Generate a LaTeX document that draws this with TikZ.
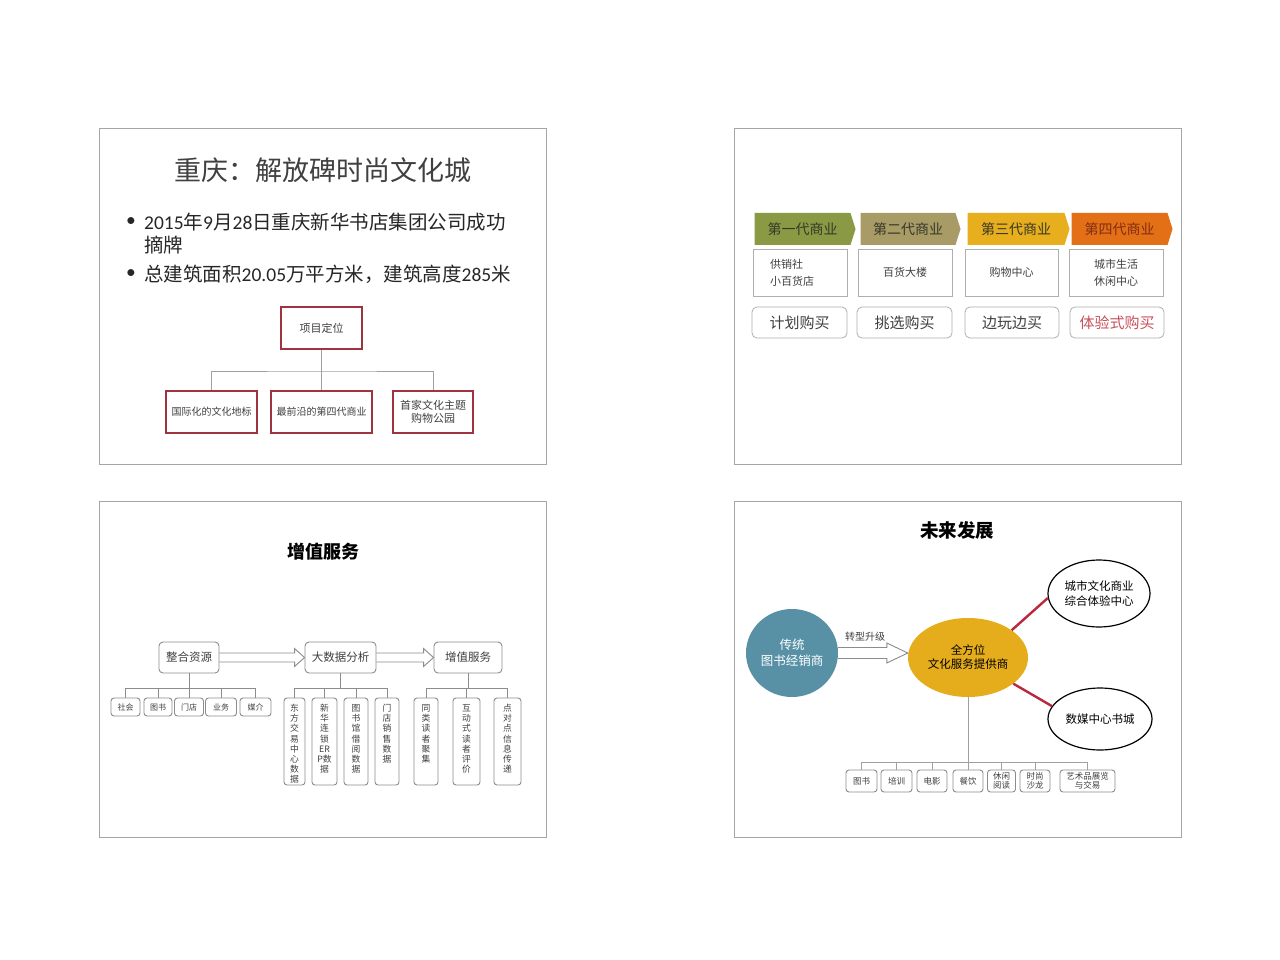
\documentclass[tikz,border=0pt]{standalone}
\usepackage{fontspec}
\setmainfont{Noto Sans CJK SC}
\newfontfamily\lat{Carlito}
\usetikzlibrary{shapes.geometric,shapes.symbols,calc}
\newcommand\fsz[2]{\fontsize{#1}{#2}\selectfont}
\newcommand\tbx[1]{\parbox[c][82pt][t]{20pt}{\centering\rule{0pt}{11pt}#1}}
\definecolor{frame}{RGB}{165,165,165}
\definecolor{boxred}{RGB}{158,52,64}
\definecolor{linegray}{RGB}{160,160,160}
\definecolor{txtdark}{RGB}{64,64,64}
\definecolor{chA}{RGB}{138,154,68}
\definecolor{chB}{RGB}{168,155,102}
\definecolor{chC}{RGB}{231,174,30}
\definecolor{chD}{RGB}{227,111,22}
\definecolor{chtxt}{RGB}{55,55,40}
\definecolor{chtxtD}{RGB}{130,45,20}
\definecolor{pinkred}{RGB}{200,80,90}
\definecolor{lbox}{RGB}{175,175,175}
\definecolor{sgray}{RGB}{140,140,140}
\definecolor{teal4}{RGB}{88,145,166}
\definecolor{gold4}{RGB}{229,173,27}
\definecolor{redln}{RGB}{185,40,60}
\begin{document}
\begin{tikzpicture}[x=1pt,y=-1pt,
  wh/.style 2 args={minimum width=#1pt, minimum height=#2pt},
  slideframe/.style={draw=frame, line width=0.8pt},
  plain/.style={inner sep=0pt},
  redbox/.style={draw=boxred, line width=1.6pt, inner sep=0pt, text=txtdark, font=\fsz{10}{13}, align=center},
  conn/.style={draw=linegray, line width=0.9pt},
  chev/.style={signal, signal to=east, signal from=nowhere, signal pointer angle=145, inner sep=0pt, font=\fsz{14}{16}},
  genbox/.style={draw=lbox, line width=0.8pt, inner sep=0pt, font=\fsz{11}{17}, align=center, text=txtdark},
  rbox/.style={genbox, rounded corners=5pt, font=\fsz{15}{18}},
  sbox/.style={draw=sgray, line width=0.9pt, rounded corners=4pt, inner sep=0pt, text=txtdark, align=center},
  hollow/.style={draw=sgray, line width=0.9pt, line join=miter},
  ebox/.style={ellipse, inner sep=0pt, align=center}
]
\useasboundingbox (0,0) rectangle (1280,960);
\fill[white] (0,0) rectangle (1280,960);

% slide frames
\draw[slideframe] (99,128) rectangle (546,464);
\draw[slideframe] (734,128) rectangle (1181,464);
\draw[slideframe] (99,501) rectangle (546,837);
\draw[slideframe] (734,501) rectangle (1181,837);

% ---------------- slide 1 ----------------
\node[plain, text=txtdark, font=\fsz{27}{30}] (t1) at (323,170) {重庆：解放碑时尚文化城};
\node[plain, font=\lat\fsz{19.5}{22}, text=black!85] (bd1) at (131,222) {•};
\node[plain, anchor=west, font=\fsz{19.5}{22}, text=black!85] (bl1) at (144,222) {{\lat 2015}年{\lat 9}月{\lat 28}日重庆新华书店集团公司成功};
\node[plain, anchor=west, font=\fsz{19.5}{22}, text=black!85] (bl1b) at (144,245) {摘牌};
\node[plain, font=\lat\fsz{19.5}{22}, text=black!85] (bd2) at (131,274) {•};
\node[plain, anchor=west, font=\fsz{19.5}{22}, text=black!85] (bl2) at (144,274) {总建筑面积{\lat 20.05}万平方米，建筑高度{\lat 285}米};

\node[redbox, wh={81}{42}, font=\fsz{11}{14}] (p0) at (321.5,328) {项目定位};
\node[redbox, wh={91}{42}] (p1) at (211.5,412) {国际化的文化地标};
\node[redbox, wh={101}{42}] (p2) at (321.5,412) {最前沿的第四代商业};
\node[redbox, wh={80}{42}, font=\fsz{11}{13}] (p3) at (433,412) {首家文化主题\\购物公园};
\coordinate (bus1) at (321.5,371);
\draw[conn] (p0.south) -- (p2.north);
\draw[conn] (p1.north) |- (bus1) -| (p3.north);

% ---------------- slide 2 ----------------
\node[chev, fill=chA, wh={101}{32}, text=chtxt] (c1) at (802.5,229) {第一代商业};
\node[chev, fill=chB, wh={100}{32}, text=chtxt] (c2) at (908,229) {第二代商业};
\node[chev, fill=chC, wh={102}{32}, text=chtxt] (c3) at (1016,229) {第三代商业};
\node[chev, fill=chD, wh={101}{32}, text=chtxtD] (c4) at (1119.5,229) {第四代商业};

\node[genbox, wh={94}{47}, text width=60pt, align=left] (m1) at (800,272.5) {供销社\\小百货店};
\node[genbox, wh={94}{47}] (m2) at (905,272.5) {百货大楼};
\node[genbox, wh={93}{47}] (m3) at (1011.5,272.5) {购物中心};
\node[genbox, wh={94}{47}] (m4) at (1116,272.5) {城市生活\\休闲中心};

\node[rbox, wh={95}{31}] (r1) at (799.5,322.5) {计划购买};
\node[rbox, wh={95}{31}] (r2) at (904.5,322.5) {挑选购买};
\node[rbox, wh={94}{31}] (r3) at (1012,322.5) {边玩边买};
\node[rbox, wh={94}{31}, text=pinkred] (r4) at (1117,322.5) {体验式购买};

% ---------------- slide 3 ----------------
\node[plain, font=\bfseries\fsz{18}{20}, text=black] (t3) at (323,552) {增值服务};
\node[sbox, wh={60}{31}, font=\fsz{11.5}{14}] (zh) at (189,657.5) {整合资源};
\node[sbox, wh={71}{31}, font=\fsz{11.5}{14}] (dsj) at (340.5,657.5) {大数据分析};
\node[sbox, wh={68}{31}, font=\fsz{11.5}{14}] (zz) at (468,657.5) {增值服务};

\draw[hollow] ($(zh.east)+(0,-4.5)$) -- ($(dsj.west)+(-10,-4.5)$) -- ($(dsj.west)+(-10,-9)$) -- (dsj.west) -- ($(dsj.west)+(-10,9)$) -- ($(dsj.west)+(-10,4.5)$) -- ($(zh.east)+(0,4.5)$);
\draw[hollow] ($(dsj.east)+(0,-4.5)$) -- ($(zz.west)+(-10,-4.5)$) -- ($(zz.west)+(-10,-9)$) -- (zz.west) -- ($(zz.west)+(-10,9)$) -- ($(zz.west)+(-10,4.5)$) -- ($(dsj.east)+(0,4.5)$);

\node[sbox, wh={29}{18}, rounded corners=3pt, font=\fsz{8}{9}] (s1) at (125.5,707) {社会};
\node[sbox, wh={28}{18}, rounded corners=3pt, font=\fsz{8}{9}] (s2) at (158,707) {图书};
\node[sbox, wh={29}{18}, rounded corners=3pt, font=\fsz{8}{9}] (s3) at (189,707) {门店};
\node[sbox, wh={31}{18}, rounded corners=3pt, font=\fsz{8}{9}] (s4) at (221,707) {业务};
\node[sbox, wh={31}{18}, rounded corners=3pt, font=\fsz{8}{9}] (s5) at (255.5,707) {媒介};
\coordinate (bus3a) at (189,688);
\draw[conn, draw=sgray] (zh.south) -- (bus3a);
\foreach \i in {1,...,5} \draw[conn, draw=sgray] (s\i.north) |- (bus3a);

\tikzset{tall/.style={sbox, minimum height=87pt, rounded corners=3pt, font=\fsz{8.8}{10.2}}}
\node[tall, minimum width=21pt] (d1) at (294.5,741.5) {\tbx{东\\方\\交\\易\\中\\心\\数\\据}};
\node[tall, minimum width=25pt] (d2) at (324.5,741.5) {\tbx{新\\华\\连\\锁\\ER\\P数\\据}};
\node[tall, minimum width=24pt] (d3) at (356,741.5) {\tbx{图\\书\\馆\\借\\阅\\数\\据}};
\node[tall, minimum width=24pt] (d4) at (387,741.5) {\tbx{门\\店\\销\\售\\数\\据}};
\coordinate (bus3b) at (340.5,688);
\draw[conn, draw=sgray] (dsj.south) -- (bus3b);
\foreach \i in {1,...,4} \draw[conn, draw=sgray] (d\i.north) |- (bus3b);

\node[tall, minimum width=24pt] (z1) at (426,741.5) {\tbx{同\\类\\读\\者\\聚\\集}};
\node[tall, minimum width=27pt] (z2) at (466.5,741.5) {\tbx{互\\动\\式\\读\\者\\评\\价}};
\node[tall, minimum width=27pt] (z3) at (507.5,741.5) {\tbx{点\\对\\点\\信\\息\\传\\递}};
\coordinate (bus3c) at (468,688);
\draw[conn, draw=sgray] (zz.south) -- (bus3c);
\foreach \i in {1,...,3} \draw[conn, draw=sgray] (z\i.north) |- (bus3c);

% ---------------- slide 4 ----------------
\node[plain, font=\bfseries\fsz{18.5}{20}, text=black] (t4) at (957,530) {未来发展};
\node[ebox, fill=teal4, wh={92}{88}, text=white, font=\fsz{12.5}{16}] (tc) at (792,653) {传统\\图书经销商};
\node[ebox, fill=gold4, wh={120}{79}, font=\fsz{11.5}{14}] (gc) at (968,657.5) {全方位\\文化服务提供商};
\node[ebox, draw=black, line width=1.2pt, wh={102}{67}, font=\fsz{11.5}{15}] (e1) at (1099,593.5) {城市文化商业\\综合体验中心};
\node[ebox, draw=black, line width=1.2pt, wh={104}{62}, font=\fsz{11.5}{14}] (e2) at (1100,719) {数媒中心书城};

\coordinate (tip4) at (tc.east -| gc.west);
\draw[hollow] ($(tc.east)+(0,-5.5)$) -- ($(tip4)+(-21,-5.5)$) -- ($(tip4)+(-21,-10)$) -- (tip4) -- ($(tip4)+(-21,10)$) -- ($(tip4)+(-21,5.5)$) -- ($(tc.east)+(0,5.5)$);
\node[plain, font=\fsz{10}{12}, text=txtdark] (lab4) at (865,637) {转型升级};

\draw[draw=redln, line width=2.4pt] (gc.32) -- (e1.185);
\draw[draw=redln, line width=2.4pt] (gc.-30) -- (e2.165);

\tikzset{fbox/.style={sbox, minimum height=22pt, rounded corners=3pt, font=\fsz{8.5}{9.5}}}
\node[fbox, minimum width=31pt] (f1) at (861.5,781) {图书};
\node[fbox, minimum width=31pt] (f2) at (896.5,781) {培训};
\node[fbox, minimum width=30pt] (f3) at (932,781) {电影};
\node[fbox, minimum width=30pt] (f4) at (968,781) {餐饮};
\node[fbox, minimum width=28pt] (f5) at (1001.5,781) {休闲\\阅读};
\node[fbox, minimum width=30pt] (f6) at (1035,781) {时尚\\沙龙};
\node[fbox, minimum width=55pt] (f7) at (1087.5,781) {艺术品展览\\与交易};
\coordinate (bus4) at (968,762);
\draw[conn] (gc.south) -- (bus4);
\foreach \i in {1,...,7} \draw[conn] (f\i.north) |- (bus4);
\end{tikzpicture}
\end{document}
